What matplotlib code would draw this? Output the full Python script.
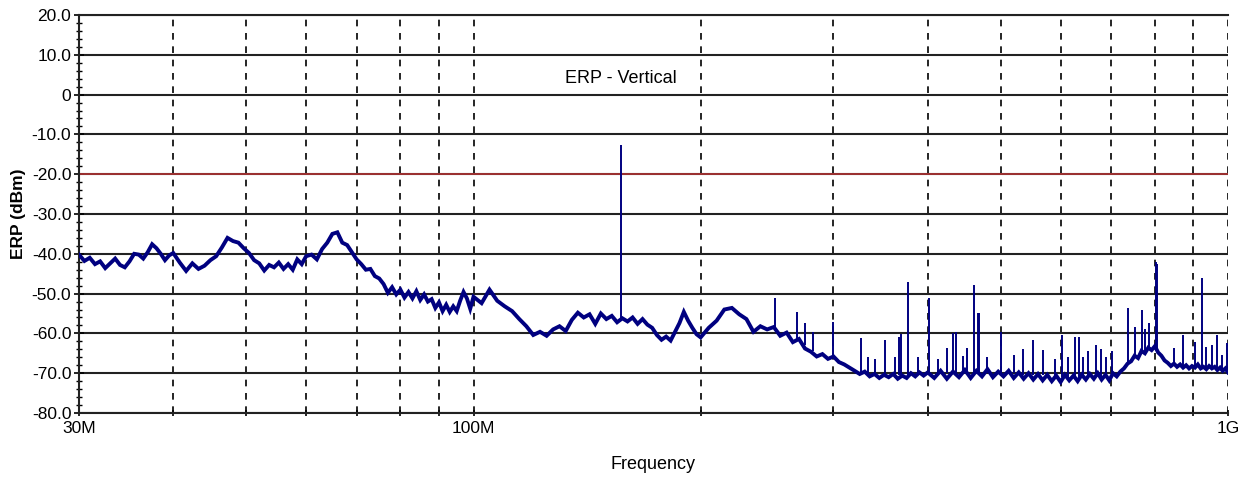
import numpy as np
import matplotlib
matplotlib.use("Agg")
from matplotlib import pyplot as plt
from matplotlib.ticker import FixedLocator, NullFormatter

plt.rcParams['font.family'] = ['Liberation Sans', 'DejaVu Sans']

# swept trace, MHz / dBm
freq_mhz = [
    30.0, 30.5, 31.0, 31.5, 32.0, 32.5, 33.0, 33.5, 34.0, 34.5, 35.0, 35.5,
    36.0, 36.5, 37.0, 37.5, 38.0, 38.5, 39.0, 39.5, 40.0,
    40.8, 41.6, 42.4, 43.2, 44.0, 44.8, 45.6, 46.4, 47.2, 48.0, 48.8, 49.6,
    50.4, 51.2, 52.0, 52.8, 53.6, 54.4, 55.2, 56.0, 56.8, 57.6, 58.4, 59.2,
    60.0,
    61, 62, 63, 64, 65, 66, 67, 68, 69, 70, 71, 72, 73, 74, 75, 76, 77, 78,
    79, 80, 81, 82, 83, 84, 85, 86, 87, 88, 89, 90, 91, 92, 93, 94, 95, 96,
    97, 98, 99, 100,
    102.5, 105, 107.5, 110, 112.5, 115, 117.5, 120, 122.5, 125, 127.5, 130,
    132.5, 135, 137.5, 140, 142.5, 145, 147.5, 150, 152.5, 155, 157.5, 160,
    162.5, 165, 167.5, 170, 172.5, 175, 177.5, 180, 182.5, 185, 187.5, 190,
    192.5, 195, 197.5, 200,
    205, 210, 215, 220, 225, 230, 235, 240, 245, 250, 255, 260, 265, 270,
    275, 280, 285, 290, 295, 300, 305, 310, 315, 320, 325, 330, 335, 340,
    345, 350, 355, 360, 365, 370, 375, 380, 385, 390, 395, 400,
    408, 416, 424, 432, 440, 448, 456, 464, 472, 480, 488, 496, 504, 512,
    520, 528, 536, 544, 552, 560, 568, 576, 584, 592, 600, 608, 616, 624,
    632, 640, 648, 656, 664, 672, 680, 688, 696, 704, 712, 720, 728, 736,
    744, 752, 760, 768, 776, 784, 792, 800, 808, 816, 824, 832, 840, 848,
    856, 864, 872, 880, 888, 896, 904, 912, 920, 928, 936, 944, 952, 960,
    968, 976, 984, 992, 1000,
]
erp_dbm = [
    -40.2, -41.8, -41.0, -42.6, -41.9, -43.6, -42.4, -41.2, -42.8, -43.4,
    -41.9, -40.0, -40.2, -41.2, -39.6, -37.6, -38.6, -40.0, -41.6, -40.4,
    -39.8,
    -42.2, -44.3, -42.4, -43.8, -43.0, -41.6, -40.6, -38.4, -36.0, -36.8,
    -37.2, -38.6, -39.8, -41.6, -42.4, -44.2, -42.8, -43.4, -42.2, -43.8,
    -42.6, -44.0, -41.4, -42.6, -40.6,
    -40.2, -41.4, -38.8, -37.2, -35.0, -34.6, -37.2, -37.8, -39.6, -41.4,
    -42.6, -44.0, -43.8, -45.6, -46.2, -47.6, -49.8, -48.4, -50.2, -49.0,
    -51.0, -49.6, -51.2, -49.4, -51.6, -50.2, -52.0, -51.4, -53.6, -52.2,
    -54.4, -52.8, -54.6, -53.2, -54.4, -51.8, -49.6, -51.2, -53.8, -50.8,
    -52.4, -49.0, -51.8, -53.2, -54.4, -56.4, -58.2, -60.4, -59.6, -60.6,
    -59.0, -58.2, -59.4, -56.6, -54.8, -56.0, -55.2, -57.6, -55.0, -56.4,
    -55.6, -57.2, -56.2, -57.0, -56.0, -57.6, -56.4, -57.8, -58.6, -60.4,
    -61.6, -60.8, -61.8, -59.6, -57.4, -54.6, -56.8, -58.6, -60.2, -61.0,
    -58.6, -56.8, -54.0, -53.6, -55.2, -56.4, -59.6, -58.2, -59.0, -58.4,
    -60.6, -59.8, -62.2, -61.4, -63.8, -64.6, -65.8, -65.2, -66.4, -65.8,
    -67.2, -67.8, -68.6, -69.4, -70.2, -69.6, -70.8, -70.2, -71.2, -70.4,
    -71.0, -70.2, -71.4, -70.6, -71.2, -70.0, -70.8, -69.8, -70.6, -69.8,
    -71.2, -69.4, -71.4, -69.6, -71.0, -69.2, -71.2, -69.4, -70.8, -69.0,
    -71.0, -69.6, -70.8, -69.4, -71.2, -69.8, -71.4, -70.0, -71.6, -70.2,
    -71.8, -70.4, -72.0, -70.6, -72.2, -70.4, -71.8, -70.6, -72.0, -70.4,
    -71.6, -70.2, -71.4, -70.0, -71.6, -70.4, -71.8, -70.0, -70.8, -69.6,
    -68.8, -67.6, -67.0, -65.6, -66.2, -64.4, -65.0, -63.6, -64.2, -63.2,
    -64.8, -65.6, -66.8, -67.4, -68.2, -67.6, -68.4, -67.8, -68.6, -68.0,
    -68.8, -68.2, -68.6, -67.8, -68.8, -68.4, -69.0, -68.2, -68.8, -68.4,
    -69.2, -68.6, -69.4, -68.8, -69.8,
]

# narrowband emissions: frequency, top and foot of each spike
spike_mhz = [157, 251, 268, 275, 282, 300, 326, 333, 341, 351, 362, 366,
             368.5, 376.6, 388, 401.5, 413, 424, 432, 436, 445, 451, 460.7,
             466.3, 467.5, 480, 500, 520, 535, 551, 569, 590, 603, 614, 627,
             635, 643, 652, 668, 679, 690, 702, 737, 753, 769, 776, 786,
             802, 804, 848, 871.5, 904, 924, 935, 952, 967, 982, 998]
spike_top_dbm = [-12.7, -51.1, -54.6, -57.4, -59.6, -57.1, -61.2, -66.0,
                 -66.5, -61.7, -66.0, -61.0, -60.2, -47.1, -66.0, -51.1,
                 -66.5, -63.7, -59.9, -59.6, -65.8, -63.7, -47.8, -54.9,
                 -54.9, -66.0, -59.6, -65.5, -64.0, -61.7, -64.1, -66.5,
                 -60.4, -66.0, -61.0, -61.0, -66.0, -64.5, -63.0, -63.8,
                 -66.0, -64.5, -53.6, -58.4, -54.1, -59.0, -57.4, -42.1,
                 -42.5, -63.7, -60.4, -62.2, -46.1, -63.5, -62.9, -60.4,
                 -65.4, -62.5]
spike_base_dbm = [-56.5, -59.0, -62.0, -63.0, -64.5, -66.0, -70.0, -70.0,
                  -70.0, -70.5, -70.5, -70.5, -70.5, -70.5, -70.5, -70.0,
                  -70.0, -70.0, -70.0, -70.0, -70.0, -70.0, -70.0, -70.0,
                  -70.0, -70.0, -70.0, -70.0, -70.5, -70.5, -70.5, -71.0,
                  -71.0, -71.0, -71.0, -71.0, -71.0, -71.0, -71.0, -71.0,
                  -71.0, -70.5, -67.5, -66.0, -65.0, -64.5, -64.0, -64.0,
                  -64.0, -68.0, -68.5, -68.5, -68.5, -68.5, -68.5, -69.0,
                  -69.0, -69.5]

LIMIT_DBM = -20.0
TRACE_COLOR = '#000080'

fig = plt.figure(figsize=(12.52, 4.78), dpi=100)
ax = fig.add_axes([79/1252, 1 - 413/478, 1149/1252, 398/478])

ax.plot(freq_mhz, erp_dbm, color=TRACE_COLOR, lw=2.8, zorder=3,
        solid_joinstyle='miter')
ax.vlines(spike_mhz, spike_base_dbm, spike_top_dbm, color=TRACE_COLOR,
          lw=1.4, zorder=3)
ax.axhline(LIMIT_DBM, color='#a83232', lw=1.3, zorder=2)

ax.set_xscale('log')
ax.set_xlim(30, 1000)
ax.set_ylim(-80, 20)

ax.xaxis.set_major_locator(FixedLocator([30, 100, 1000]))
ax.xaxis.set_minor_locator(FixedLocator(
    [40, 50, 60, 70, 80, 90, 200, 300, 400, 500, 600, 700, 800, 900]))
ax.xaxis.set_minor_formatter(NullFormatter())
ax.set_xticklabels(['30M', '100M', '1G'])

yt = np.arange(-80, 21, 10)
ax.set_yticks(yt)
ax.set_yticklabels(['0' if v == 0 else '%.1f' % v for v in yt])
ax.yaxis.set_minor_locator(FixedLocator(np.arange(-80, 21, 2)))

ax.tick_params(axis='y', which='major', direction='inout', length=7,
               width=1.2, labelsize=12.5, pad=2)
ax.tick_params(axis='y', which='minor', direction='inout', length=5,
               width=1.0)
ax.tick_params(axis='x', which='both', direction='inout', length=5,
               width=1.2, labelsize=12.5, pad=3)

# grid: solid horizontals, dashed verticals
ax.yaxis.grid(True, which='major', color='#222222', lw=1.5, ls='-')
ax.xaxis.grid(True, which='both', color='black', lw=1.2, ls=(0, (4, 4)))
ax.set_axisbelow(True)

ax.spines['right'].set_visible(False)
for s in ('left', 'bottom', 'top'):
    ax.spines[s].set_linewidth(1.5)
    ax.spines[s].set_color('#222222')

ax.text(157, 4.0, 'ERP - Vertical', ha='center', va='center', fontsize=13)
ax.set_xlabel('Frequency', fontsize=13, labelpad=15)
ax.set_ylabel('ERP (dBm)', fontsize=12.5, fontweight='bold', labelpad=4)

fig.savefig('out.png', dpi=100)
